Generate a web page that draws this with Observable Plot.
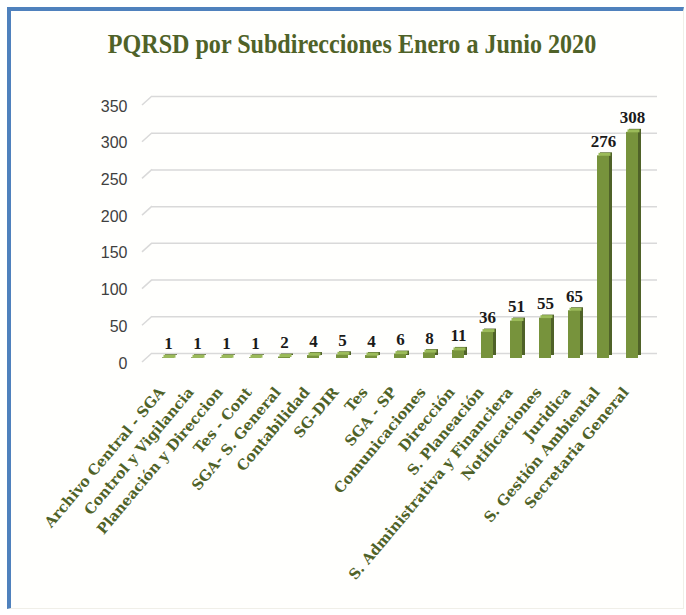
<!DOCTYPE html>
<html>
<head>
<meta charset="utf-8">
<script src="https://cdn.jsdelivr.net/npm/d3@7"></script>
<script src="https://cdn.jsdelivr.net/npm/@observablehq/plot@0.6"></script>
<style>
  html, body { margin: 0; padding: 0; background: #ffffff; }
  #wrap { position: relative; width: 686px; height: 615px; overflow: hidden; background: #ffffff; }
  #frame { position: absolute; left: 7px; top: 7px; width: 672px; height: 597px;
           border-top: 4px solid #4f81bd; border-left: 4px solid #4f81bd;
           border-right: 1px solid #f0efe8; border-bottom: 1px solid #f0efe8; background: #fffffd; }
  #title { position: relative; height: 80px; width: 686px; text-align: center; }
  #title span { position: absolute; left: 352px; top: 27px; transform: translateX(-50%) scaleX(0.86);
                white-space: nowrap; font-family: "Liberation Serif", serif; font-weight: bold;
                font-size: 28px; line-height: 34px; color: #4f6228; }
  #chart { position: relative; }
</style>
</head>
<body>
<div id="wrap">
  <div id="frame"></div>
  <div id="title"><span>PQRSD por Subdirecciones Enero a Junio 2020</span></div>
  <div id="chart"></div>
</div>
<script>
const categories = [
  "Archivo Central - SGA", "Control y Vigilancia", "Planeación y Direccion", "Tes - Cont",
  "SGA- S. General", "Contabilidad", "SG-DIR", "Tes", "SGA - SP", "Comunicaciones",
  "Dirección", "S. Planeación", "S. Administrativa y Financiera", "Notificaciones",
  "Juridica", "S. Gestión Ambiental", "Secretaria General"
];
const values = [1, 1, 1, 1, 2, 4, 5, 4, 6, 8, 11, 36, 51, 55, 65, 276, 308];
const yTicks = [0, 50, 100, 150, 200, 250, 300, 350];

const data = categories.map((c, i) => ({name: c, value: values[i]}));

const green = "#77933c";
const dark = "#4f6228";
const light = "#9bbb59";

// slanted "back wall" ends of the gridlines
function wallSlants(index, scales) {
  const g = document.createElementNS("http://www.w3.org/2000/svg", "g");
  for (const v of yTicks) {
    const yy = scales.y(v);
    const p = document.createElementNS("http://www.w3.org/2000/svg", "path");
    p.setAttribute("d", `M142,${yy + 4}L152,${yy - 5}`);
    p.setAttribute("stroke", "#d9d9d9");
    p.setAttribute("stroke-width", "1.5");
    p.setAttribute("fill", "none");
    g.appendChild(p);
  }
  return g;
}

const chart = Plot.plot({
  width: 686,
  height: 535,
  marginLeft: 148,
  marginRight: 33,
  marginTop: 21,
  marginBottom: 257,
  style: {background: "transparent", overflow: "visible"},
  x: {domain: categories, paddingInner: 0.57, paddingOuter: 0.285, axis: null},
  y: {domain: [0, 350], axis: null},
  marks: [
    Plot.ruleY(yTicks, {y: d => d, dy: -5, stroke: "#d9d9d9", strokeWidth: 1.5, insetLeft: 4, insetRight: -4}),
    wallSlants,
    Plot.text(yTicks, {y: d => d, text: d => String(d), frameAnchor: "left", dx: -21, dy: 5,
      textAnchor: "end", fontSize: 16, fill: "#404040", fontFamily: "Liberation Sans, sans-serif"}),
    Plot.barY(data, {x: "name", y: "value", fill: dark, dx: 3, dy: -3}),
    Plot.barY(data, {x: "name", y: "value", fill: green}),
    Plot.tickY(data, {x: "name", y: "value", stroke: light, strokeWidth: 3, dx: 1.5, dy: -1.5}),
    Plot.text(data, {x: "name", y: "value", text: d => String(d.value), lineAnchor: "bottom", dy: -9,
      fontSize: 17, fontWeight: "bold", fill: "#1a1a1a", fontFamily: "Liberation Serif, serif"}),
    Plot.text(data, {x: "name", text: "name", frameAnchor: "bottom", rotate: -50, textAnchor: "end",
      dy: 34, dx: -3, fontSize: 14.5, fontWeight: "bold", fill: dark, fontFamily: "DejaVu Serif, serif"})
  ]
});
document.getElementById("chart").appendChild(chart);
</script>
</body>
</html>
